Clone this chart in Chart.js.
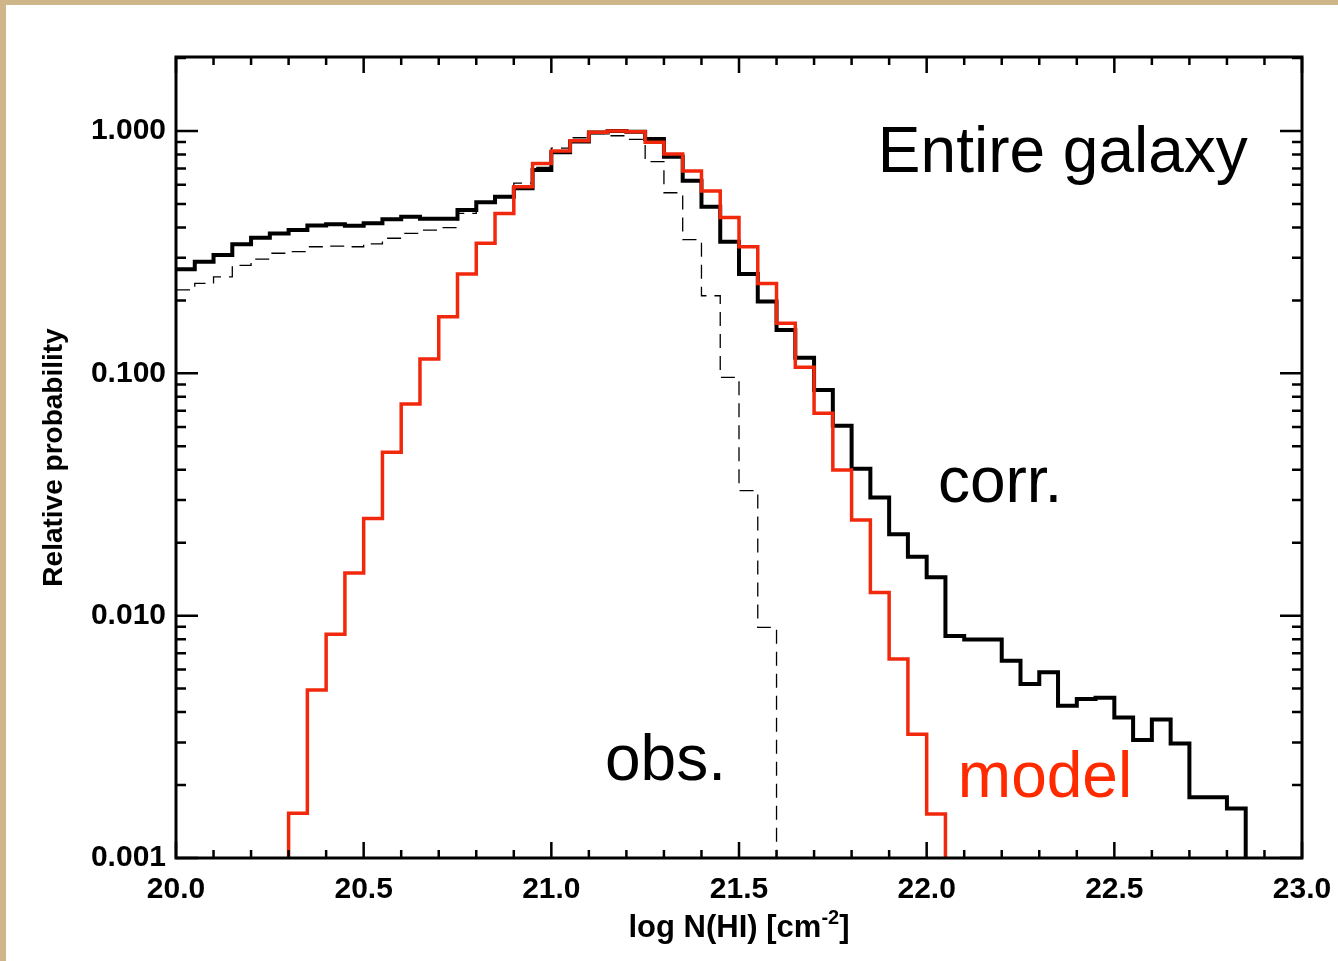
<!DOCTYPE html>
<html>
<head>
<meta charset="utf-8">
<script src="https://cdn.jsdelivr.net/npm/chart.js@4.4.1/dist/chart.umd.min.js"></script>
<style>
  html, body { margin: 0; padding: 0; }
  body { width: 1338px; height: 961px; background: #cfb58a; overflow: hidden; position: relative; }
  #wrap { position: absolute; left: 6px; top: 5px; width: 1332px; height: 956px; background: #fff; }
</style>
</head>
<body>
<div id="wrap"><canvas id="chart" width="1332" height="956"></canvas></div>
<script>
// histogram bins: 20.00, 20.05, ... (left edges)
const binStart = 20.0;
const binWidth = 0.05;

// corrected distribution (thick black)
const corrValues = [
  0.269, 0.289, 0.308, 0.341, 0.363, 0.378, 0.390, 0.407, 0.412, 0.406,
  0.416, 0.432, 0.443, 0.434, 0.434, 0.472, 0.508, 0.536, 0.580, 0.690,
  0.817, 0.905, 0.985, 1.000, 0.993, 0.927, 0.783, 0.624, 0.487, 0.349,
  0.257, 0.198, 0.151, 0.116, 0.0853, 0.0608, 0.0404, 0.0307, 0.0217, 0.0175,
  0.0144, 0.00824, 0.00798, 0.00798, 0.00652, 0.00522, 0.00584, 0.00425, 0.00453, 0.00458,
  0.00380, 0.00307, 0.00373, 0.00297, 0.00178, 0.00178, 0.00160
];

// observed distribution (thin dashed)
const obsValues = [
  0.221, 0.235, 0.250, 0.279, 0.296, 0.313, 0.318, 0.333, 0.335, 0.333,
  0.342, 0.361, 0.378, 0.390, 0.399, 0.457, 0.506, 0.540, 0.609, 0.708,
  0.850, 0.938, 0.975, 0.956, 0.924, 0.747, 0.556, 0.356, 0.209, 0.0963,
  0.0328, 0.00895
];

// model (red)
const modelValues = [
  null, null, null, null, null, null, 0.00153, 0.00493, 0.00838, 0.0150,
  0.0252, 0.0472, 0.0747, 0.1146, 0.1713, 0.257, 0.344, 0.457, 0.589, 0.735,
  0.827, 0.912, 0.988, 1.000, 0.993, 0.898, 0.804, 0.684, 0.565, 0.440,
  0.333, 0.235, 0.161, 0.106, 0.0684, 0.0399, 0.0248, 0.01245, 0.00662, 0.00324,
  0.00152
];

const xTickLabels = ['20.0', '20.5', '21.0', '21.5', '22.0', '22.5', '23.0'];
const yTickLabels = ['0.001', '0.010', '0.100', '1.000'];

const xMin = 20.0, xMax = 23.0;
const yMin = 0.001, yMax = 2.02;

const red = '#f2280c';

// text placed in data coordinates
const plotLabels = [
  { text: 'Entire galaxy', x: 21.87, y: 0.677, color: '#000' },
  { text: 'corr.', x: 22.03, y: 0.0294, color: '#000' },
  { text: 'obs.', x: 21.143, y: 0.0021, color: '#000' },
  { text: 'model', x: 22.083, y: 0.00178, color: '#ff2a00' }
];

// turn bin values into stepped outline points
function stepPoints(values) {
  const pts = [];
  const first = values.findIndex(v => v !== null);
  let last = values.length - 1;
  while (values[last] === null) last--;
  if (first > 0) pts.push({ x: binStart + first * binWidth, y: yMin });
  for (let i = first; i <= last; i++) {
    pts.push({ x: binStart + i * binWidth, y: values[i] });
  }
  pts.push({ x: binStart + (last + 1) * binWidth, y: values[last] });
  pts.push({ x: binStart + (last + 1) * binWidth, y: yMin });
  return pts;
}

function isMajorX(v) {
  return xTickLabels.includes(v.toFixed(1));
}
function isMajorY(v) {
  return yTickLabels.includes(v.toFixed(3)) && Math.abs(Math.log10(v) - Math.round(Math.log10(v))) < 1e-6;
}

const frameTicks = {
  id: 'frameTicks',
  afterDatasetsDraw(chart) {
    const { ctx, chartArea: a, scales: { x, y } } = chart;
    ctx.save();
    ctx.strokeStyle = '#000';
    ctx.lineWidth = 2.5;
    ctx.beginPath();
    x.ticks.forEach(t => {
      const px = x.getPixelForValue(t.value);
      const len = isMajorX(t.value) ? 16 : 8;
      ctx.moveTo(px, a.bottom); ctx.lineTo(px, a.bottom - len);
      ctx.moveTo(px, a.top); ctx.lineTo(px, a.top + len);
    });
    y.ticks.forEach(t => {
      if (t.value < yMin || t.value > yMax) return;
      const py = y.getPixelForValue(t.value);
      const len = isMajorY(t.value) ? 22 : 10;
      ctx.moveTo(a.left, py); ctx.lineTo(a.left + len, py);
      ctx.moveTo(a.right, py); ctx.lineTo(a.right - len, py);
    });
    ctx.stroke();
    ctx.lineWidth = 3;
    ctx.strokeRect(a.left, a.top, a.right - a.left, a.bottom - a.top);

    // in-plot labels
    ctx.font = '64px "Liberation Sans", Arial, sans-serif';
    ctx.textAlign = 'left';
    ctx.textBaseline = 'alphabetic';
    plotLabels.forEach(l => {
      ctx.fillStyle = l.color;
      ctx.fillText(l.text, x.getPixelForValue(l.x), y.getPixelForValue(l.y));
    });

    // x axis title with superscript
    const base = a.bottom + 79;
    const cx = (a.left + a.right) / 2;
    const mainFont = 'bold 31px "Liberation Sans", Arial, sans-serif';
    const supFont = 'bold 20px "Liberation Sans", Arial, sans-serif';
    ctx.fillStyle = '#000';
    ctx.font = mainFont;
    const w1 = ctx.measureText('log N(HI) [cm').width;
    const w3 = ctx.measureText(']').width;
    ctx.font = supFont;
    const w2 = ctx.measureText('-2').width;
    let sx = cx - (w1 + w2 + w3) / 2;
    ctx.font = mainFont;
    ctx.fillText('log N(HI) [cm', sx, base);
    ctx.font = supFont;
    ctx.fillText('-2', sx + w1, base - 13);
    ctx.font = mainFont;
    ctx.fillText(']', sx + w1 + w2, base);
    ctx.restore();
  }
};

const tickFont = { family: '"Liberation Sans", Arial, sans-serif', size: 30, weight: 'bold' };

new Chart(document.getElementById('chart'), {
  type: 'line',
  data: {
    datasets: [
      {
        label: 'model',
        data: stepPoints(modelValues),
        borderColor: red,
        borderWidth: 3.5,
        stepped: true,
        pointRadius: 0,
        fill: false
      },
      {
        label: 'corr.',
        data: stepPoints(corrValues),
        borderColor: '#000',
        borderWidth: 4,
        stepped: true,
        pointRadius: 0,
        fill: false
      },
      {
        label: 'obs.',
        data: stepPoints(obsValues),
        borderColor: '#000',
        borderWidth: 1.3,
        borderDash: [14, 8],
        stepped: true,
        pointRadius: 0,
        fill: false
      }
    ]
  },
  options: {
    responsive: false,
    animation: false,
    layout: { padding: { left: 0, right: 36, top: 52, bottom: 0 } },
    plugins: {
      legend: { display: false },
      tooltip: { enabled: false }
    },
    scales: {
      x: {
        type: 'linear',
        min: xMin,
        max: xMax,
        grid: { display: false, drawTicks: false },
        border: { display: false },
        afterBuildTicks: (scale) => {
          const ticks = [];
          for (let i = 0; i <= 30; i++) ticks.push({ value: xMin + i / 10 });
          scale.ticks = ticks;
        },
        afterFit: (scale) => {
          scale.height = 103;
          scale.paddingLeft = 0;
          scale.paddingRight = 0;
        },
        ticks: {
          autoSkip: false,
          maxRotation: 0,
          padding: 14,
          color: '#000',
          font: tickFont,
          callback: (v) => isMajorX(v) ? v.toFixed(1) : ''
        }
      },
      y: {
        type: 'logarithmic',
        min: yMin,
        max: yMax,
        grid: { display: false, drawTicks: false },
        border: { display: false },
        afterBuildTicks: (scale) => {
          const ticks = [];
          for (let d = -3; d <= 0; d++) {
            for (let k = 1; k <= 9; k++) {
              const v = k * Math.pow(10, d);
              if (v <= yMax) ticks.push({ value: v });
            }
          }
          scale.ticks = ticks;
        },
        afterFit: (scale) => {
          scale.width = 170;
          scale.paddingTop = 0;
          scale.paddingBottom = 0;
        },
        ticks: {
          autoSkip: false,
          padding: 10,
          color: '#000',
          font: tickFont,
          callback: (v) => isMajorY(v) ? Number(v).toFixed(3) : ''
        },
        title: {
          display: true,
          text: 'Relative probability',
          color: '#000',
          font: { family: '"Liberation Sans", Arial, sans-serif', size: 28, weight: 'bold' },
          padding: { top: 31, bottom: 0 }
        }
      }
    }
  },
  plugins: [frameTicks]
});
</script>
</body>
</html>
